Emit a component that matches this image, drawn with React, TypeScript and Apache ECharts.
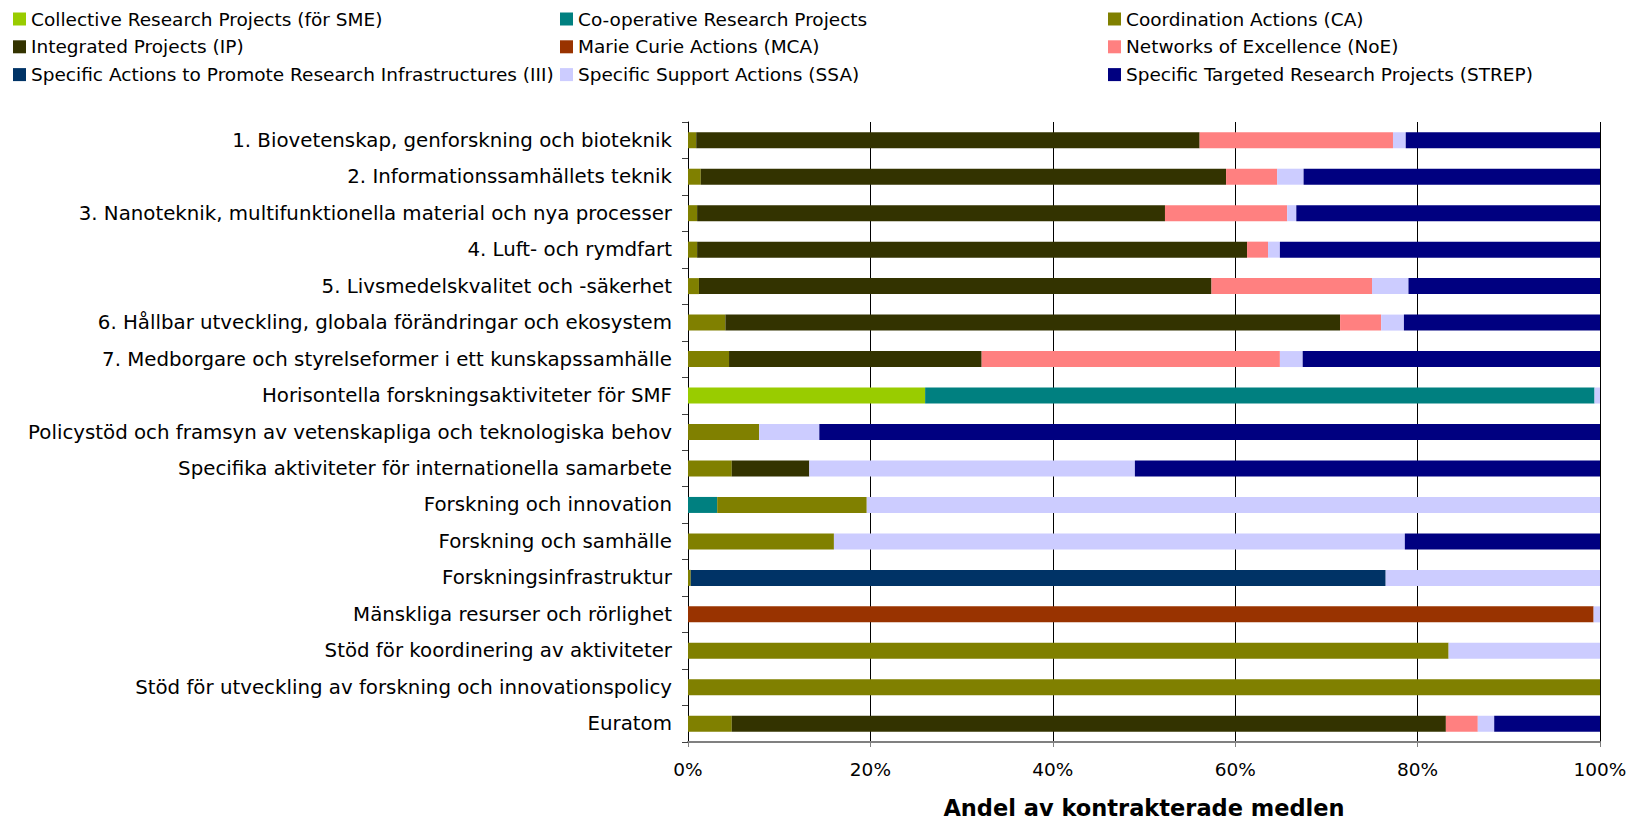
import React, { useEffect, useRef } from "react";
import * as echarts from "echarts";

const categories = [
  "1. Biovetenskap, genforskning och bioteknik",
  "2. Informationssamhällets teknik",
  "3. Nanoteknik, multifunktionella material och nya processer",
  "4. Luft- och rymdfart",
  "5. Livsmedelskvalitet och -säkerhet",
  "6. Hållbar utveckling, globala förändringar och ekosystem",
  "7. Medborgare och styrelseformer i ett kunskapssamhälle",
  "Horisontella forskningsaktiviteter för SMF",
  "Policystöd och framsyn av vetenskapliga och teknologiska behov",
  "Specifika aktiviteter för internationella samarbete",
  "Forskning och innovation",
  "Forskning och samhälle",
  "Forskningsinfrastruktur",
  "Mänskliga resurser och rörlighet",
  "Stöd för koordinering av aktiviteter",
  "Stöd för utveckling av forskning och innovationspolicy",
  "Euratom",
];

const seriesNames = [
  "Collective Research Projects (för SME)",
  "Co-operative Research Projects",
  "Coordination Actions (CA)",
  "Integrated Projects (IP)",
  "Marie Curie Actions (MCA)",
  "Networks of Excellence (NoE)",
  "Specific Actions to Promote Research Infrastructures (III)",
  "Specific Support Actions (SSA)",
  "Specific Targeted Research Projects (STREP)",
];

const seriesColors = [
  "#99CC00",
  "#008080",
  "#808000",
  "#333300",
  "#993300",
  "#FF8080",
  "#003366",
  "#CCCCFF",
  "#000080",
];

// values in percent, one entry per category
const crp = [0, 0, 0, 0, 0, 0, 0, 26.0, 0, 0, 0, 0, 0, 0, 0, 0, 0];
const coop = [0, 0, 0, 0, 0, 0, 0, 73.4, 0, 0, 3.2, 0, 0, 0, 0, 0, 0];
const ca = [0.9, 1.4, 1.0, 1.0, 1.2, 4.1, 4.5, 0, 7.8, 4.8, 16.4, 16.0, 0.3, 0, 83.4, 100, 4.8];
const ip = [55.2, 57.6, 51.3, 60.3, 56.2, 67.4, 27.7, 0, 0, 8.5, 0, 0, 0, 0, 0, 0, 78.3];
const mca = [0, 0, 0, 0, 0, 0, 0, 0, 0, 0, 0, 0, 0, 99.3, 0, 0, 0];
const noe = [21.2, 5.6, 13.4, 2.3, 17.6, 4.5, 32.7, 0, 0, 0, 0, 0, 0, 0, 0, 0, 3.5];
const iii = [0, 0, 0, 0, 0, 0, 0, 0, 0, 0, 0, 0, 76.2, 0, 0, 0, 0];
const ssa = [1.4, 2.9, 1.0, 1.3, 4.0, 2.5, 2.5, 0.6, 6.6, 35.7, 80.4, 62.6, 23.5, 0.7, 16.6, 0, 1.8];
const strep = [21.3, 32.6, 33.3, 35.1, 21.0, 21.5, 32.6, 0, 85.6, 51.0, 0, 21.4, 0, 0, 0, 0, 11.6];

const seriesValues = [crp, coop, ca, ip, mca, noe, iii, ssa, strep];

const xTicks = [0, 20, 40, 60, 80, 100];
const xTitle = "Andel av kontrakterade medlen";

const FONT = "DejaVu Sans, Verdana, sans-serif";

export default function App() {
  const ref = useRef<HTMLDivElement>(null);

  useEffect(() => {
    if (!ref.current) return;
    const chart = echarts.init(ref.current, null, { renderer: "svg" });

    const legendCols = [
      { left: 13, names: [seriesNames[0], seriesNames[3], seriesNames[6]] },
      { left: 560, names: [seriesNames[1], seriesNames[4], seriesNames[7]] },
      { left: 1108, names: [seriesNames[2], seriesNames[5], seriesNames[8]] },
    ];

    chart.setOption({
      animation: false,
      backgroundColor: "#ffffff",
      legend: legendCols.map((c) => ({
        orient: "vertical",
        left: c.left,
        top: 9,
        padding: 0,
        data: c.names,
        icon: "rect",
        itemWidth: 13,
        itemHeight: 13,
        itemGap: 7.8,
        selectedMode: false,
        textStyle: {
          fontFamily: FONT,
          fontSize: 18.5,
          color: "#000",
          lineHeight: 20,
        },
      })),
      grid: {
        left: 688,
        right: 33,
        top: 122,
        bottom: 77,
        containLabel: false,
        outerBoundsMode: "none",
      },
      xAxis: {
        type: "value",
        min: 0,
        max: 100,
        interval: 20,
        name: xTitle,
        nameLocation: "middle",
        nameGap: 54,
        nameTextStyle: {
          fontFamily: FONT,
          fontSize: 22.5,
          fontWeight: "bold",
          color: "#000",
        },
        axisLine: { show: true, lineStyle: { color: "#808080", width: 2 } },
        axisTick: { show: true, length: 5, lineStyle: { color: "#808080", width: 1 } },
        axisLabel: {
          formatter: (v: number) => (xTicks.includes(v) ? v + "%" : ""),
          fontFamily: FONT,
          fontSize: 18.5,
          color: "#000",
          margin: 18,
        },
        splitLine: { show: true, lineStyle: { color: "#000", width: 1 } },
      },
      yAxis: {
        type: "category",
        data: categories,
        inverse: true,
        axisLine: { show: true, lineStyle: { color: "#000", width: 1 } },
        axisTick: { show: true, length: 6, lineStyle: { color: "#404040" } },
        axisLabel: {
          fontFamily: FONT,
          fontSize: 19.8,
          color: "#000",
          margin: 16,
        },
        splitLine: { show: false },
      },
      series: seriesNames.map((name, i) => ({
        name,
        type: "bar",
        stack: "total",
        barWidth: 16,
        data: seriesValues[i],
        itemStyle: { color: seriesColors[i] },
        emphasis: { disabled: true },
      })),
    });

    return () => chart.dispose();
  }, []);

  return (
    <div
      ref={ref}
      style={{ position: "fixed", left: 0, top: 0, width: 1633, height: 819 }}
    />
  );
}
